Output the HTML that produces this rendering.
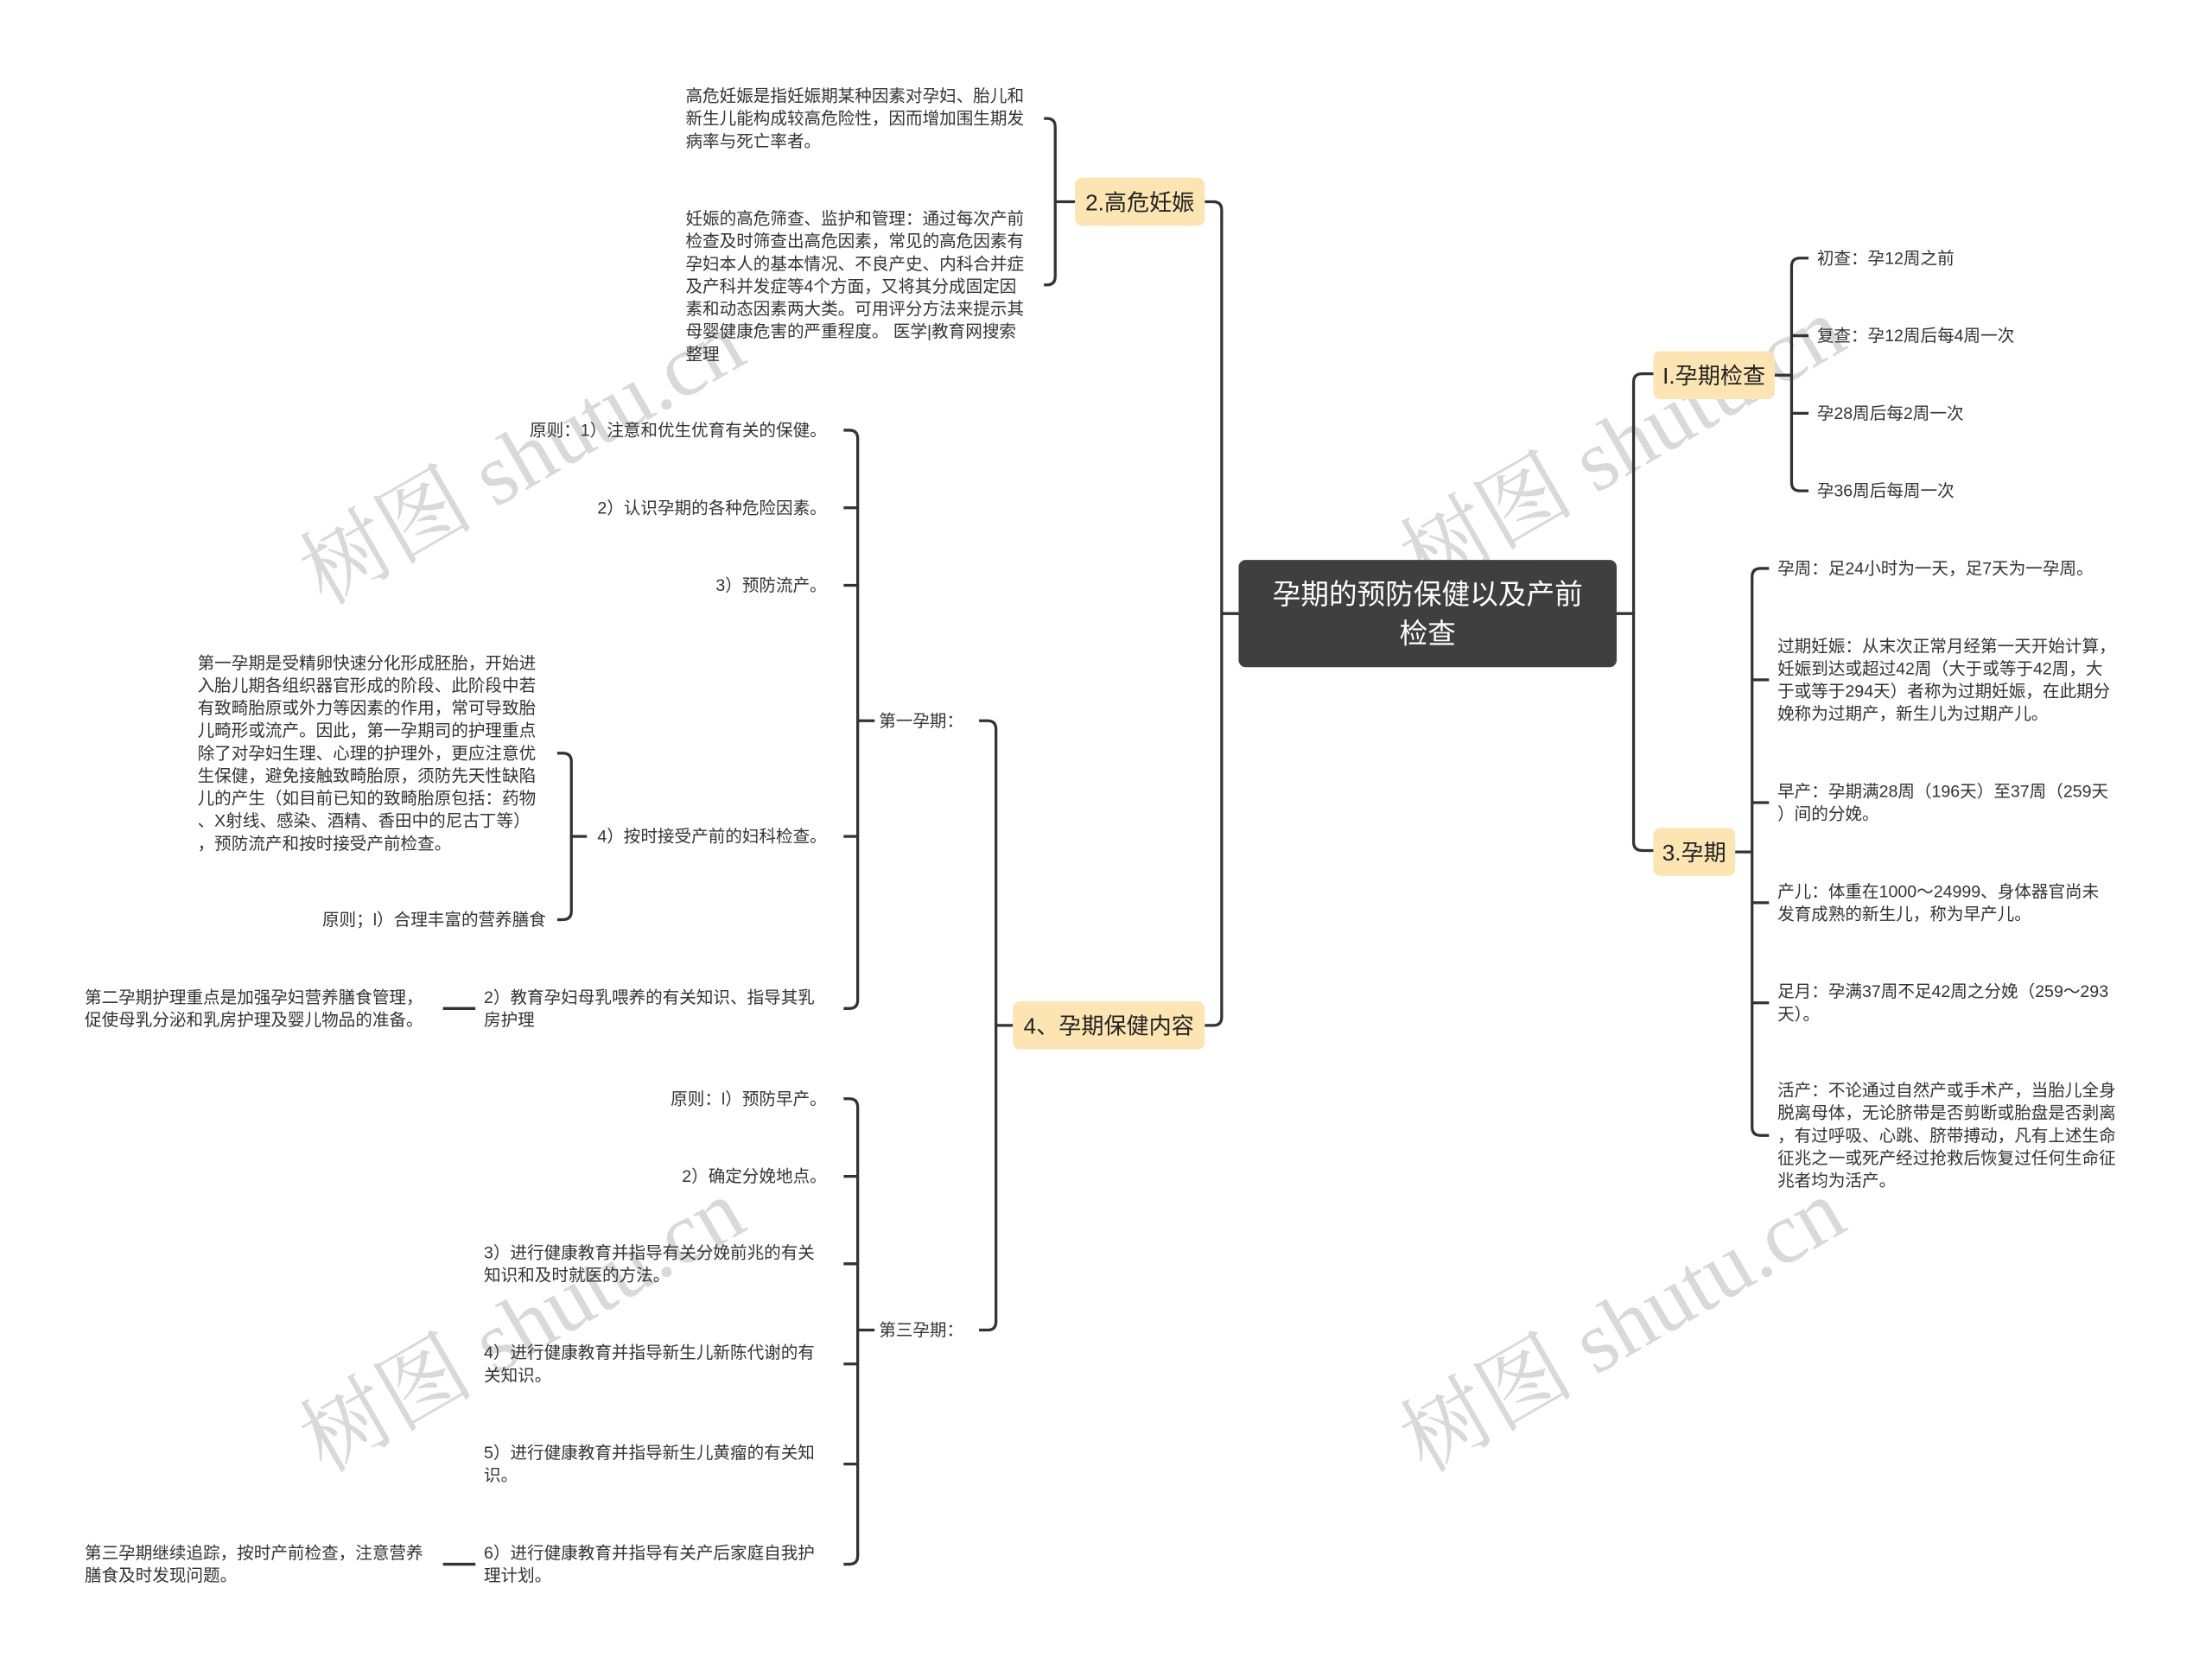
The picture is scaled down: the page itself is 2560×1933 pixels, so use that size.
<!DOCTYPE html>
<html><head><meta charset="utf-8"><style>
html,body{margin:0;padding:0;background:#fff;}
svg{display:block;}
text{font-family:"Liberation Sans","Noto Sans CJK SC",sans-serif;fill:#333;font-size:12px;}
.wm{font-family:"Liberation Serif","Noto Serif CJK SC",serif;font-size:62px;fill:#d9d9d9;}
.b{font-size:16px;fill:#222;}
.r{font-size:20px;fill:#fff;}
</style></head><body>
<svg width="2560" height="1933" viewBox="0 0 1568 1184" xmlns="http://www.w3.org/2000/svg">
<rect width="1568" height="1184" fill="#fff"/>
<g class="wmg">
<text class="wm" transform="translate(230,430) rotate(-30)">树图 shutu.cn</text>
<text class="wm" transform="translate(1010,420) rotate(-30)">树图 shutu.cn</text>
<text class="wm" transform="translate(230,1045) rotate(-30)">树图 shutu.cn</text>
<text class="wm" transform="translate(1010,1045) rotate(-30)">树图 shutu.cn</text>
</g>
<g fill="none" stroke="#333" stroke-width="2">
<path d="M878 435 L866 435 M854 143 L860 143 Q866 143 866 149 L866 721 Q866 727 860 727 L854 727"/>
<path d="M1146 435 L1158 435 M1172 265 L1164 265 Q1158 265 1158 271 L1158 597 Q1158 603 1164 603 L1172 603"/>
<path d="M762 143 L748 143 M740 84 L742 84 Q748 84 748 90 L748 196 Q748 202 742 202 L740 202"/>
<path d="M718 727 L706 727 M694 511 L700 511 Q706 511 706 517 L706 937 Q706 943 700 943 L694 943"/>
<path d="M620 511 L608 511 M598 305 L602 305 Q608 305 608 311 L608 709 Q608 715 602 715 L598 715 M598 360 L608 360 M598 415 L608 415 M598 593 L608 593"/>
<path d="M416 593 L405 593 M395 534 L399 534 Q405 534 405 540 L405 646 Q405 652 399 652 L395 652"/>
<path d="M337 715 L314 715 M337 1109 L314 1109"/>
<path d="M620 943 L608 943 M598 779 L602 779 Q608 779 608 785 L608 1103 Q608 1109 602 1109 L598 1109 M598 834 L608 834 M598 896 L608 896 M598 967 L608 967 M598 1038 L608 1038"/>
<path d="M1258 266 L1270 266 M1282 183 L1276 183 Q1270 183 1270 189 L1270 342 Q1270 348 1276 348 L1282 348 M1270 238 L1282 238 M1270 293 L1282 293"/>
<path d="M1230 604 L1242 604 M1254 403 L1248 403 Q1242 403 1242 409 L1242 799 Q1242 805 1248 805 L1254 805 M1242 482 L1254 482 M1242 569 L1254 569 M1242 640 L1254 640 M1242 711 L1254 711"/>
</g>
<rect x="878" y="397" width="268" height="76" rx="5" fill="#3f3f3f"/>
<text class="r" x="1012" y="428" text-anchor="middle">孕期的预防保健以及产前</text>
<text class="r" x="1012" y="456" text-anchor="middle">检查</text>
<rect x="762" y="126" width="92" height="34" rx="5" fill="#fce5b3"/>
<text class="b" x="808" y="149" text-anchor="middle">2.高危妊娠</text>
<rect x="718" y="710" width="136" height="34" rx="5" fill="#fce5b3"/>
<text class="b" x="786" y="733" text-anchor="middle">4、孕期保健内容</text>
<rect x="1172" y="249" width="86" height="34" rx="5" fill="#fce5b3"/>
<text class="b" x="1215" y="272" text-anchor="middle">I.孕期检查</text>
<rect x="1172" y="587" width="58" height="34" rx="5" fill="#fce5b3"/>
<text class="b" x="1201" y="610" text-anchor="middle">3.孕期</text>

<g>
<text x="486" y="72">高危妊娠是指妊娠期某种因素对孕妇、胎儿和</text>
<text x="486" y="88">新生儿能构成较高危险性，因而增加围生期发</text>
<text x="486" y="104">病率与死亡率者。</text>
<text x="486" y="159">妊娠的高危筛查、监护和管理：通过每次产前</text>
<text x="486" y="175">检查及时筛查出高危因素，常见的高危因素有</text>
<text x="486" y="191">孕妇本人的基本情况、不良产史、内科合并症</text>
<text x="486" y="207">及产科并发症等4个方面，又将其分成固定因</text>
<text x="486" y="223">素和动态因素两大类。可用评分方法来提示其</text>
<text x="486" y="239">母婴健康危害的严重程度。 医学|教育网搜索</text>
<text x="486" y="255">整理</text>
</g>
<g text-anchor="end">
<text x="683" y="515">第一孕期：</text>
<text x="683" y="947">第三孕期：</text>
<text x="586" y="309">原则：1）注意和优生优育有关的保健。</text>
<text x="586" y="364">2）认识孕期的各种危险因素。</text>
<text x="586" y="419">3）预防流产。</text>
<text x="586" y="597">4）按时接受产前的妇科检查。</text>
<text x="387" y="656">原则；l）合理丰富的营养膳食</text>
<text x="586" y="783">原则：l）预防早产。</text>
<text x="586" y="838">2）确定分娩地点。</text>
</g>
<g>
<text x="140" y="474">第一孕期是受精卵快速分化形成胚胎，开始进</text>
<text x="140" y="490">入胎儿期各组织器官形成的阶段、此阶段中若</text>
<text x="140" y="506">有致畸胎原或外力等因素的作用，常可导致胎</text>
<text x="140" y="522">儿畸形或流产。因此，第一孕期司的护理重点</text>
<text x="140" y="538">除了对孕妇生理、心理的护理外，更应注意优</text>
<text x="140" y="554">生保健，避免接触致畸胎原，须防先天性缺陷</text>
<text x="140" y="570">儿的产生（如目前已知的致畸胎原包括：药物</text>
<text x="140" y="586">、X射线、感染、酒精、香田中的尼古丁等）</text>
<text x="140" y="602">，预防流产和按时接受产前检查。</text>
<text x="343" y="711">2）教育孕妇母乳喂养的有关知识、指导其乳</text>
<text x="343" y="727">房护理</text>
<text x="60" y="711">第二孕期护理重点是加强孕妇营养膳食管理，</text>
<text x="60" y="727">促使母乳分泌和乳房护理及婴儿物品的准备。</text>
<text x="343" y="892">3）进行健康教育并指导有关分娩前兆的有关</text>
<text x="343" y="908">知识和及时就医的方法。</text>
<text x="343" y="963">4）进行健康教育并指导新生儿新陈代谢的有</text>
<text x="343" y="979">关知识。</text>
<text x="343" y="1034">5）进行健康教育并指导新生儿黄瘤的有关知</text>
<text x="343" y="1050">识。</text>
<text x="343" y="1105">6）进行健康教育并指导有关产后家庭自我护</text>
<text x="343" y="1121">理计划。</text>
<text x="60" y="1105">第三孕期继续追踪，按时产前检查，注意营养</text>
<text x="60" y="1121">膳食及时发现问题。</text>
</g>
<g>
<text x="1288" y="187">初查：孕12周之前</text>
<text x="1288" y="242">复查：孕12周后每4周一次</text>
<text x="1288" y="297">孕28周后每2周一次</text>
<text x="1288" y="352">孕36周后每周一次</text>
<text x="1260" y="407">孕周：足24小时为一天，足7天为一孕周。</text>
<text x="1260" y="462">过期妊娠：从末次正常月经第一天开始计算，</text>
<text x="1260" y="478">妊娠到达或超过42周（大于或等于42周，大</text>
<text x="1260" y="494">于或等于294天）者称为过期妊娠，在此期分</text>
<text x="1260" y="510">娩称为过期产，新生儿为过期产儿。</text>
<text x="1260" y="565">早产：孕期满28周（196天）至37周（259天</text>
<text x="1260" y="581">）间的分娩。</text>
<text x="1260" y="636">产儿：体重在1000～24999、身体器官尚未</text>
<text x="1260" y="652">发育成熟的新生儿，称为早产儿。</text>
<text x="1260" y="707">足月：孕满37周不足42周之分娩（259～293</text>
<text x="1260" y="723">天）。</text>
<text x="1260" y="777">活产：不论通过自然产或手术产，当胎儿全身</text>
<text x="1260" y="793">脱离母体，无论脐带是否剪断或胎盘是否剥离</text>
<text x="1260" y="809">，有过呼吸、心跳、脐带搏动，凡有上述生命</text>
<text x="1260" y="825">征兆之一或死产经过抢救后恢复过任何生命征</text>
<text x="1260" y="841">兆者均为活产。</text>
</g>
</svg>
</body></html>
